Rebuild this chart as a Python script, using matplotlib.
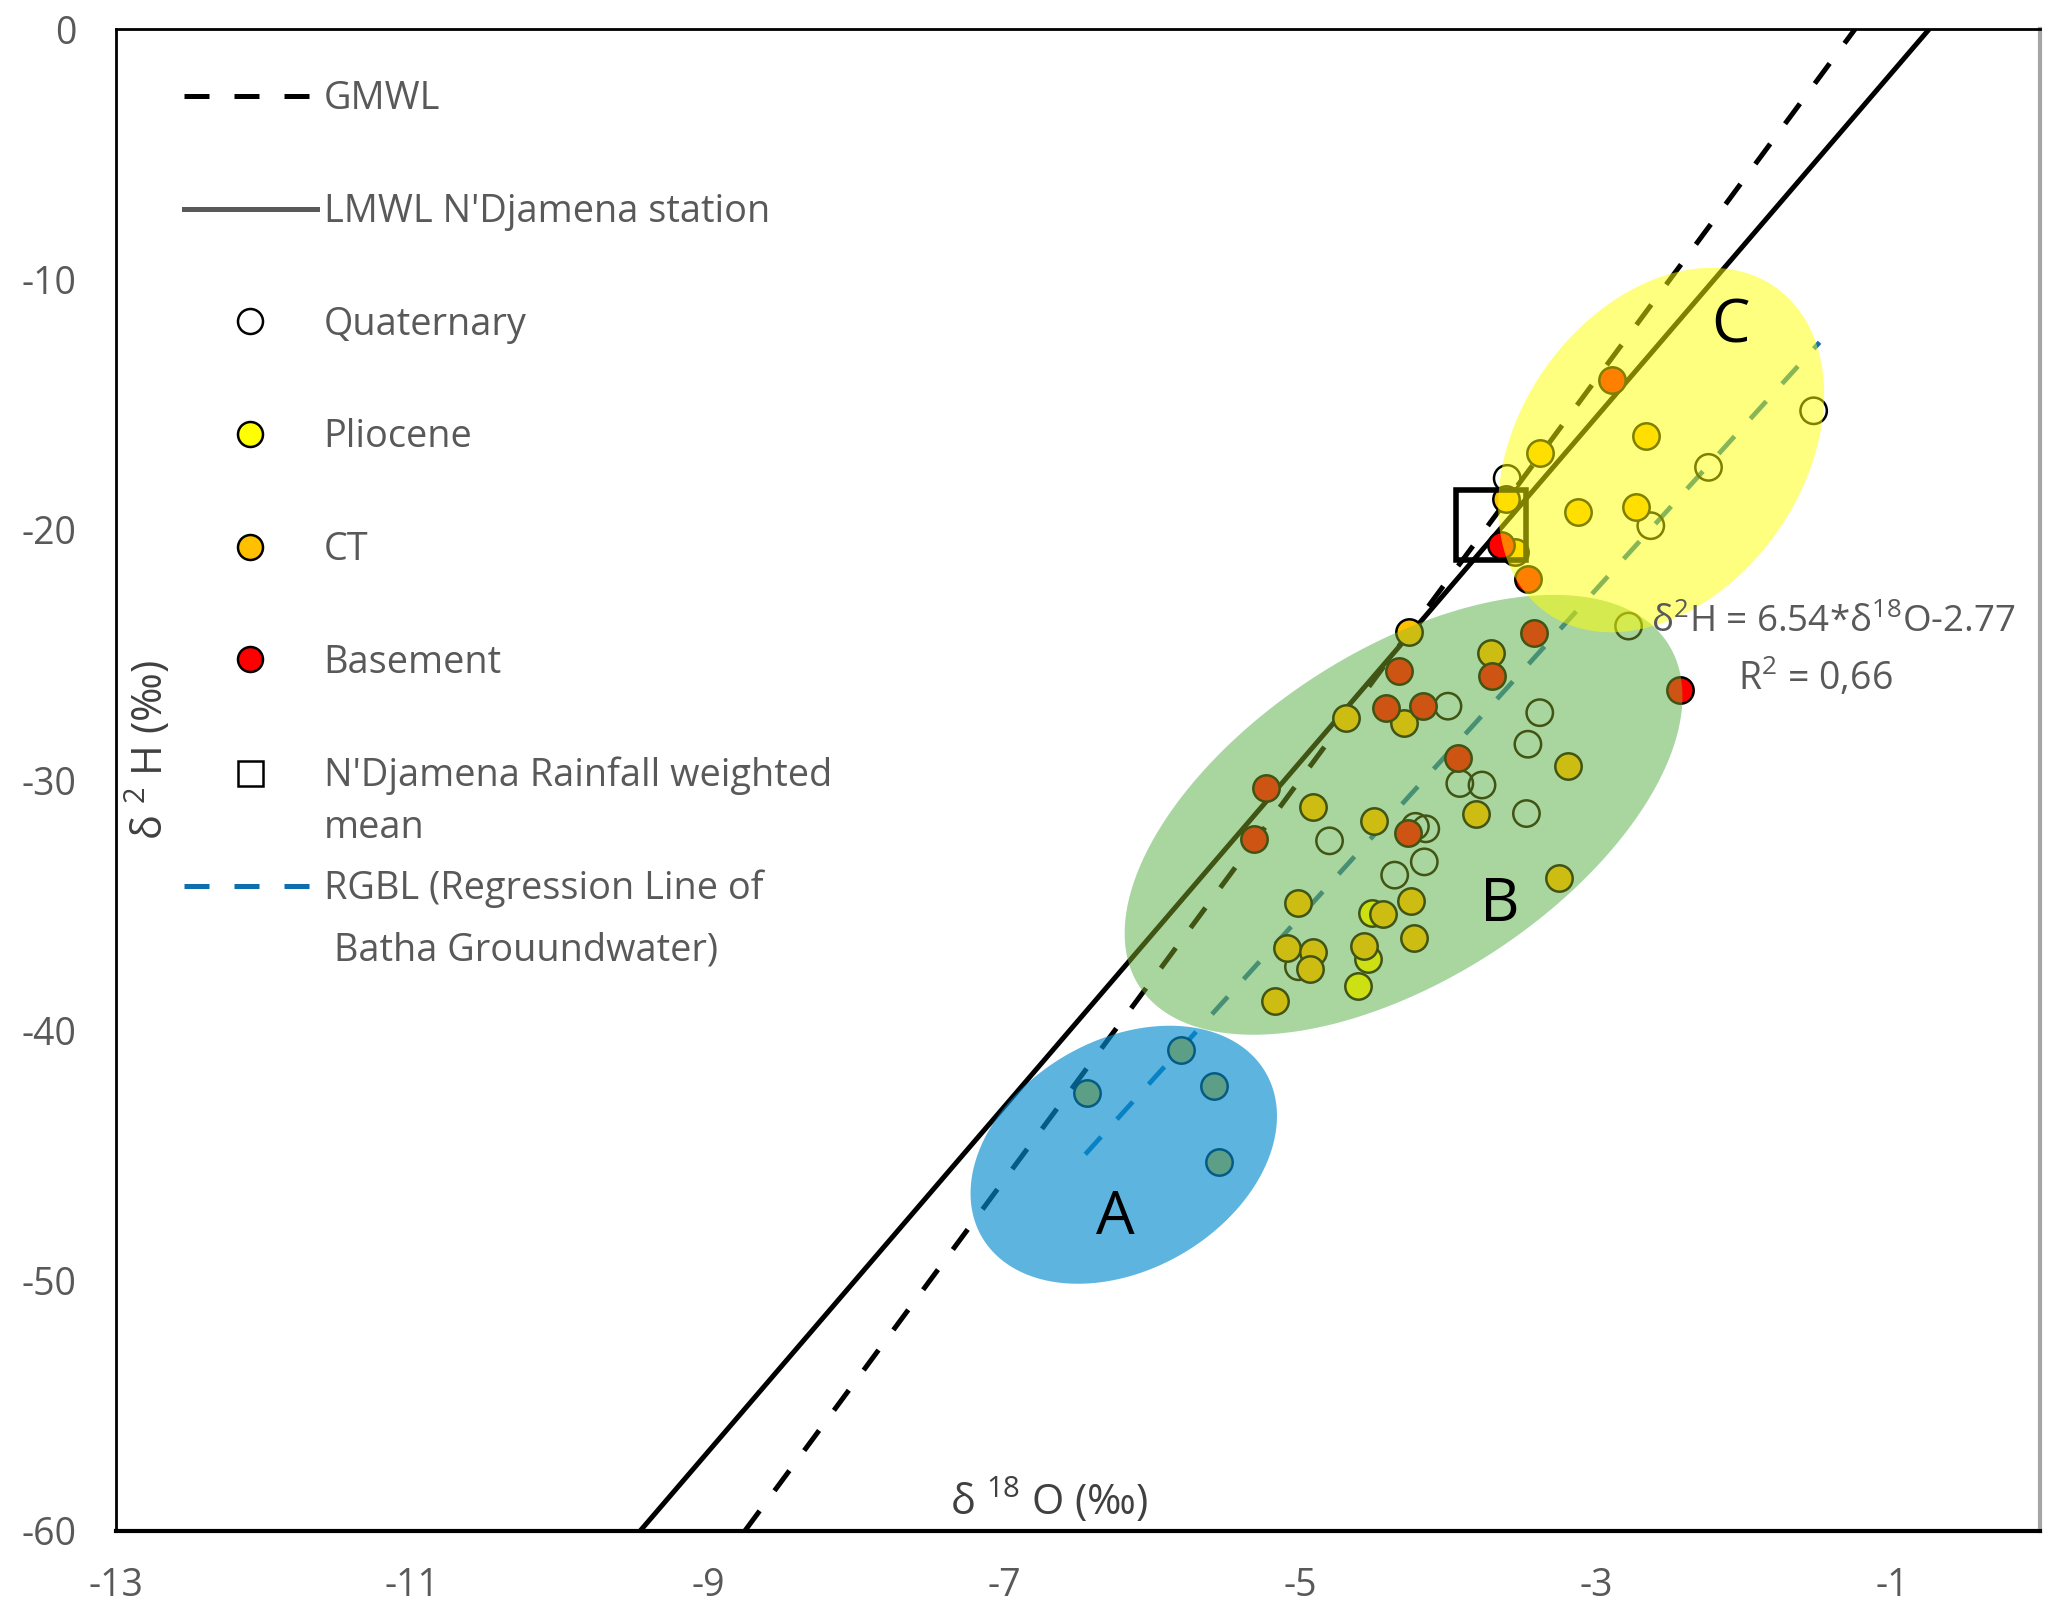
import numpy as np
import matplotlib as mpl
import matplotlib.pyplot as plt
from matplotlib.lines import Line2D
from matplotlib.patches import Polygon

mpl.use('Agg')
plt.rcParams['font.family'] = ['Open Sans', 'DejaVu Sans']
plt.rcParams['mathtext.fontset'] = 'custom'
plt.rcParams['mathtext.rm'] = 'Open Sans'
plt.rcParams['mathtext.it'] = 'Open Sans:italic'
plt.rcParams['mathtext.bf'] = 'Open Sans:bold'
plt.rcParams['axes.unicode_minus'] = False

# ---- data (d18O, d2H) ----
quat_x = [-3.60, -2.63, -2.24, -1.53, -2.78, -4.00, -3.38, -3.46, -3.92, -3.77,
          -3.47, -4.80, -4.22, -4.15, -4.16, -4.36, -5.01]
quat_y = [-17.95, -19.84, -17.51, -15.25, -23.85, -27.05, -27.31, -28.57, -30.14, -30.20,
          -31.34, -32.43, -31.85, -31.95, -33.27, -33.80, -37.46]

plio_x = [-4.51, -4.54, -4.61]
plio_y = [-35.33, -37.17, -38.23]

ct_x = [-2.66, -3.38, -3.61, -3.12, -2.73, -3.55,
        -4.26, -4.30, -4.69, -4.91, -4.50, -3.71, -3.19, -3.81, -3.25, -4.25,
        -5.01, -4.44, -4.23, -5.09, -4.91, -4.93, -4.57, -5.17,
        -5.80, -6.44, -5.58, -5.55]
ct_y = [-16.25, -16.93, -18.79, -19.31, -19.11, -20.90,
        -24.08, -27.71, -27.54, -31.07, -31.64, -24.92, -29.43, -31.34, -33.90, -34.83,
        -34.91, -35.36, -36.33, -36.73, -36.86, -37.53, -36.64, -38.82,
        -40.79, -42.52, -42.23, -45.25]

base_x = [-2.89, -3.64, -3.46, -4.33, -4.42, -4.17, -5.23, -5.31, -4.27, -3.42,
          -3.70, -3.93, -2.43]
base_y = [-14.02, -20.60, -21.95, -25.65, -27.14, -27.05, -30.30, -32.36, -32.11, -24.12,
          -25.85, -29.14, -26.41]

rain_mean = (-3.71, -19.80)

# meteoric water lines: slope, intercept
gmwl = (8.0, 10.0)
lmwl = (6.89, 5.16)
rgbl = (6.54, -2.77)
rgbl_range = [-6.45, -1.49]

# groups A, B, C (centre in data units)
zone_names = ['A', 'B', 'C']
zone_cx = [-6.19, -4.30, -2.56]
zone_cy = [-44.97, -31.39, -16.82]
zone_label_x = [-6.25, -3.65, -2.09]
zone_label_y = [-47.5, -35.0, -11.9]

xticks = [-13, -11, -9, -7, -5, -3, -1]
yticks = [-60, -50, -40, -30, -20, -10, 0]

grey = '#595959'

fig = plt.figure(figsize=(20.57, 16.23), dpi=100)
ax = fig.add_axes([0.0562, 0.0567, 0.9356, 0.9254])
ax.set_xlim(-13, 0)
ax.set_ylim(-60, 0)


# ellipse outline from a centre in data units and semi axes in pixels
def ellipse(cx, cy, a_px, b_px, angle, color, alpha, z):
    t = np.linspace(0, 2 * np.pi, 240)
    th = np.deg2rad(angle)
    px, py = ax.transData.transform((cx, cy))
    ex = px + a_px * np.cos(t) * np.cos(th) - b_px * np.sin(t) * np.sin(th)
    ey = py + a_px * np.cos(t) * np.sin(th) + b_px * np.sin(t) * np.cos(th)
    verts = ax.transData.inverted().transform(np.column_stack([ex, ey]))
    ax.add_patch(Polygon(verts, closed=True, fc=color, alpha=alpha, ec='none', zorder=z))


# lines
dash = (0, (5, 5))
for (m, b), ls in [(gmwl, dash), (lmwl, '-')]:
    xs = np.array([(-60 - b) / m, (0 - b) / m])
    ax.plot(xs, m * xs + b, color='black', lw=3.6, ls=ls, zorder=2)
xr = np.array(rgbl_range)
ax.plot(xr, rgbl[0] * xr + rgbl[1], color='#0e6eb0', lw=3.4, ls=dash, zorder=2)

# points
ms2 = 19 ** 2
ax.scatter(quat_x, quat_y, s=ms2, c='none', edgecolors='black', linewidths=1.8, zorder=3)
ax.scatter(plio_x, plio_y, s=ms2, c='#ffff00', edgecolors='black', linewidths=1.8, zorder=3)
ax.scatter(ct_x, ct_y, s=ms2, c='#ffc000', edgecolors='black', linewidths=1.8, zorder=3)
ax.scatter(base_x, base_y, s=ms2, c='#ff0000', edgecolors='black', linewidths=1.8, zorder=3)
ax.plot(*rain_mean, marker='s', ms=50, mfc='none', mec='black', mew=4, ls='none', zorder=3)

# group shading: B has an under layer plus a tint on top, A and C only a tint
ellipse(zone_cx[1], zone_cy[1], 315, 164, 33, '#bfecfe', 1.0, 1)
ellipse(zone_cx[0], zone_cy[0], 164, 115, 30, '#068dcf', 0.65, 4)
ellipse(zone_cx[1], zone_cy[1], 315, 164, 33, '#90bb2c', 0.45, 4)
ellipse(zone_cx[2], zone_cy[2], 199, 142, 55, '#ffff00', 0.50, 4)

for name, lx, ly in zip(zone_names, zone_label_x, zone_label_y):
    ax.text(lx, ly, name, fontsize=44, ha='center', va='center', color='black', zorder=5)

ax.text(-2.63, -23.73, r'δ$^2$H = 6.54*δ$^{18}$O-2.77', fontsize=26.5, color=grey,
        ha='left', va='center', zorder=5)
ax.text(-2.04, -25.89, r'R$^2$ = 0,66', fontsize=27, color=grey,
        ha='left', va='center', zorder=5)

# axis labels inside the plot area
ax.text(0.485, 0.02, r'δ $^{18}$ O (‰)', transform=ax.transAxes, fontsize=30,
        color='#404040', ha='center', va='center')
ax.text(0.0174, 0.52, r'δ $^2$ H (‰)', transform=ax.transAxes, fontsize=30,
        color='#404040', ha='center', va='center', rotation=90)

ax.set_xticks(xticks)
ax.set_yticks(yticks)
ax.set_xticklabels([str(v) for v in xticks])
ax.set_yticklabels([str(v) for v in yticks])
ax.tick_params(axis='both', length=0, labelsize=27, labelcolor=grey)
ax.tick_params(axis='y', pad=28)
ax.tick_params(axis='x', pad=26)
for side in ['left', 'top', 'bottom']:
    ax.spines[side].set_color('black')
    ax.spines[side].set_linewidth(2)
ax.spines['bottom'].set_linewidth(3)
ax.spines['right'].set_color('#a6a6a6')
ax.spines['right'].set_linewidth(3)

# legend
handles = [
    Line2D([], [], color='black', lw=3.6, ls=dash),
    Line2D([], [], color=grey, lw=3.6),
    Line2D([], [], ls='none', marker='o', ms=18, mfc='white', mec='black', mew=1.8),
    Line2D([], [], ls='none', marker='o', ms=18, mfc='#ffff00', mec='black', mew=1.8),
    Line2D([], [], ls='none', marker='o', ms=18, mfc='#ffc000', mec='black', mew=1.8),
    Line2D([], [], ls='none', marker='o', ms=18, mfc='#ff0000', mec='black', mew=1.8),
    Line2D([], [], ls='none', marker='s', ms=18, mfc='white', mec='black', mew=1.8),
    Line2D([], [], color='#0e6eb0', lw=3.6, ls=dash),
]
labels = ['GMWL', "LMWL N'Djamena station", 'Quaternary', 'Pliocene', 'CT', 'Basement',
          "N'Djamena Rainfall weighted", 'RGBL (Regression Line of']
leg = ax.legend(handles, labels, loc='upper left', bbox_to_anchor=(0.0356, 0.966),
                frameon=False, fontsize=27.3, labelcolor=grey, handlelength=3.5,
                handletextpad=0.18, labelspacing=1.97, borderpad=0, borderaxespad=0)

# second lines of the two long legend labels
fig.canvas.draw()
W, H = fig.bbox.width, fig.bbox.height
texts = leg.get_texts()
for txt, extra, gap in [(texts[6], 'mean', 52), (texts[7], ' Batha Grouundwater)', 62)]:
    bb = txt.get_window_extent()
    fig.text(bb.x0 / W, ((bb.y0 + bb.y1) / 2 - gap) / H, extra, fontsize=27.3,
             color=grey, ha='left', va='center')

fig.savefig('out.png', dpi=100)
